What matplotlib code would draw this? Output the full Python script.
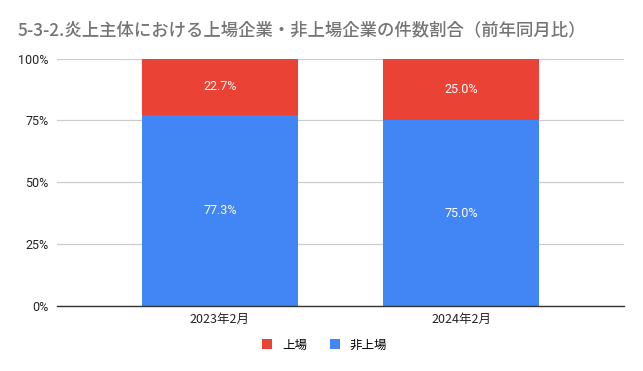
import matplotlib.pyplot as plt

plt.rcParams['font.family'] = ['Noto Sans CJK JP', 'DejaVu Sans']

months = ['2023年2月', '2024年2月']
listed = [22.7, 25.0]
unlisted = [77.3, 75.0]
yticks = [0, 25, 50, 75, 100]

red = '#EA4335'
blue = '#4285F4'

fig = plt.figure(figsize=(6.43, 3.71), dpi=100)
ax = fig.add_axes([0.0886, 0.175, 0.8814, 0.667])

x = range(len(months))
b1 = ax.bar(x, unlisted, width=0.646, color=blue, label='非上場', zorder=2)
b2 = ax.bar(x, listed, width=0.646, bottom=unlisted, color=red, label='上場', zorder=2)

for i in x:
    ax.text(i, unlisted[i] / 2, '%.1f%%' % unlisted[i], ha='center', va='center',
            color='white', fontsize=9, family='Roboto')
    ax.text(i, unlisted[i] + listed[i] / 2, '%.1f%%' % listed[i], ha='center', va='center',
            color='white', fontsize=9, family='Roboto')

ax.set_xlim(-0.675, 1.673)
ax.set_ylim(0, 100)
ax.set_yticks(yticks)
ax.set_yticklabels(['%d%%' % t for t in yticks], family='Roboto')
ax.set_xticks(list(x))
ax.set_xticklabels(months)
ax.tick_params(axis='both', length=0, labelsize=9, labelcolor='#222222')
ax.tick_params(axis='y', pad=6)
ax.tick_params(axis='x', pad=5)
ax.grid(axis='y', color='#cccccc', linewidth=0.9, zorder=0)
for s in ['top', 'right', 'left']:
    ax.spines[s].set_visible(False)
ax.spines['bottom'].set_color('#333333')
ax.spines['bottom'].set_linewidth(1.0)
ax.spines['bottom'].set_zorder(3)

fig.text(0.027, 0.918, '5-3-2.炎上主体における上場企業・非上場企業の件数割合（前年同月比）',
         fontsize=12.5, color='#757575', weight='medium', va='center', ha='left')

handles = [b2, b1]
fig.legend(handles, ['上場', '非上場'], loc='center', bbox_to_anchor=(0.505, 0.07),
           ncol=2, frameon=False, fontsize=9, handlelength=0.8, handleheight=0.8,
           handletextpad=0.8, columnspacing=1.8)

fig.savefig('out.png', dpi=100)
